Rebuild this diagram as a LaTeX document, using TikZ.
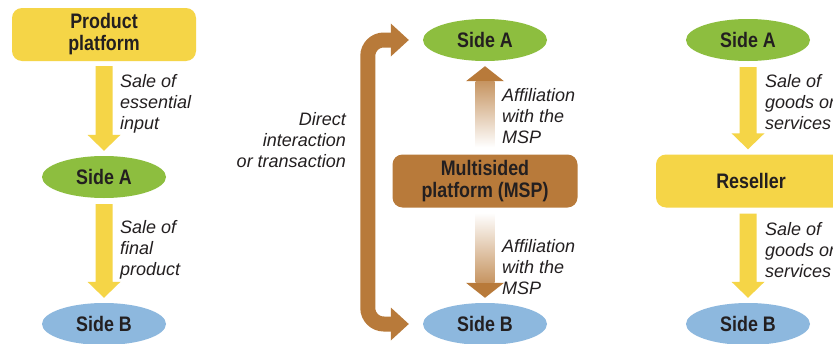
\documentclass[tikz,border=0pt]{standalone}
\usepackage{fontspec}
\setmainfont{Liberation Sans}
\newfontfamily\condfont[FakeStretch=0.85]{Liberation Sans}
\usetikzlibrary{shapes.geometric,calc}
\definecolor{yel}{HTML}{F5D547}
\definecolor{grn}{HTML}{8DBE3F}
\definecolor{blu}{HTML}{8DB8DE}
\definecolor{brn}{HTML}{B87A3A}
\definecolor{txt}{HTML}{231F20}
\newcommand\yarrow[2]{\fill[yel] ($(#1)+(-8.5,0)$) -- ($(#1)+(8.5,0)$) -- ($(#2)+(8.5,-16)$) -- ($(#2)+(16.5,-16)$) -- (#2) -- ($(#2)+(-16.5,-16)$) -- ($(#2)+(-8.5,-16)$) -- cycle;}
\tikzset{
  ell/.style={ellipse, minimum width=124pt, minimum height=42pt, inner sep=0pt, text=txt,
    font=\condfont\bfseries\fontsize{21}{23}\selectfont},
  bx/.style={rounded corners=10pt, minimum height=53pt, inner sep=0pt, text=txt, align=center,
    font=\condfont\bfseries\fontsize{21}{22}\selectfont},
  lab/.style={font=\itshape\fontsize{18}{21}\selectfont, align=left, anchor=north west, text=txt, inner sep=0pt},
  labr/.style={font=\itshape\fontsize{18}{21}\selectfont, align=right, anchor=north east, text=txt, inner sep=0pt}
}
\begin{document}
\begin{tikzpicture}[x=1pt,y=-1pt]
\useasboundingbox (0,0) rectangle (833,343);
\fill[white] (0,0) rectangle (833,343);
% left column
\node[bx, fill=yel, minimum width=184pt] (pp) at (104,34.5) {Product\\platform};
\node[ell, fill=grn] (saL) at (104,177) {Side A};
\node[ell, fill=blu] (sbL) at (104,324) {Side B};
\yarrow{$(pp.south)+(0,5)$}{$(saL.north)+(0,-5)$}
\yarrow{$(saL.south)+(0,6)$}{$(sbL.north)+(0,-5)$}
\node[lab] (l1) at (120,74) {Sale of\\essential\\input};
\node[lab] (l2) at (120,220) {Sale of\\final\\product};
% middle column
\node[ell, fill=grn] (saM) at (485,40) {Side A};
\node[ell, fill=blu] (sbM) at (485,324) {Side B};
\node[bx, fill=brn, minimum width=185pt] (msp) at (485,181) {Multisided\\platform (MSP)};
\coordinate (uT) at ($(saM.south)+(0,5)$);
\coordinate (uB) at ($(msp.north)+(0,-7)$);
\fill[brn] (uT) -- ($(uT)+(19,15)$) -- ($(uT)+(-19,15)$) -- cycle;
\shade[top color=brn!80, bottom color=white] ($(uT)+(-9.5,15)$) rectangle ($(uB)+(9.5,0)$);
\coordinate (dT) at ($(msp.south)+(0,5)$);
\coordinate (dB) at ($(sbM.north)+(0,-5)$);
\fill[brn] (dB) -- ($(dB)+(19,-15)$) -- ($(dB)+(-19,-15)$) -- cycle;
\shade[top color=white, bottom color=brn!80] ($(dT)+(-9.5,0)$) rectangle ($(dB)+(9.5,-15)$);
\node[lab] (a1) at (502,88) {Affiliation\\with the\\MSP};
\node[lab] (a2) at (502,239) {Affiliation\\with the\\MSP};
\coordinate (bA) at ($(saM.west)+(-14,0)$);
\coordinate (bB) at ($(sbM.west)+(-14,0)$);
\draw[brn, line width=15pt, rounded corners=16pt] ($(bA)+(-17,0)$) -- ($(bA)+(-41,0)$) |- ($(bB)+(-17,0)$);
\fill[brn] (bA) -- ($(bA)+(-18,-16.5)$) -- ($(bA)+(-18,16.5)$) -- cycle;
\fill[brn] (bB) -- ($(bB)+(-18,-16.5)$) -- ($(bB)+(-18,16.5)$) -- cycle;
\node[labr] (dir) at (346,112) {Direct\\interaction\\or transaction};
% right column
\node[ell, fill=grn] (saR) at (748,40) {Side A};
\node[bx, fill=yel, minimum width=190pt] (re) at (751,181) {Reseller};
\node[ell, fill=blu] (sbR) at (748,324) {Side B};
\yarrow{$(saR.south)+(0,6)$}{$(saR.south |- re.north)+(0,-5)$}
\yarrow{$(saR.south |- re.south)+(0,6)$}{$(sbR.north)+(0,-5)$}
\node[lab] (r1) at (765,74) {Sale of\\goods or\\services};
\node[lab] (r2) at (765,222) {Sale of\\goods or\\services};
\end{tikzpicture}
\end{document}
